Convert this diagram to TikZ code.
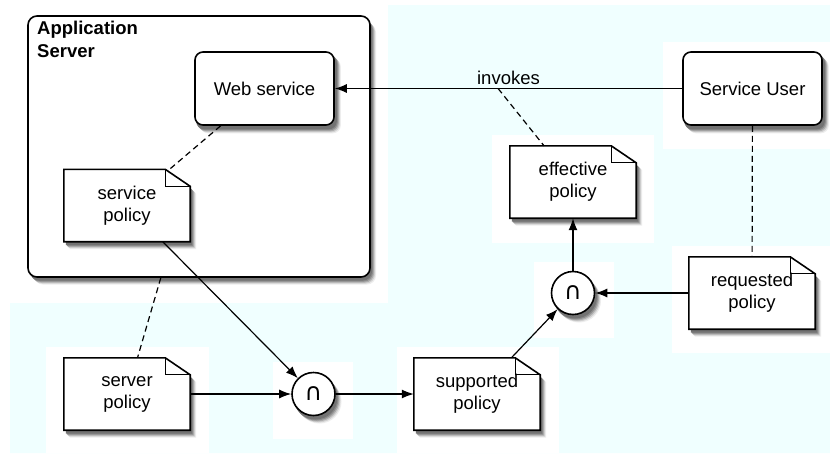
\documentclass[tikz,border=0pt]{standalone}
\usepackage{fontspec}
\setmainfont{Liberation Sans}
\newfontfamily\symfont{DejaVu Sans}
\usetikzlibrary{arrows.meta,calc}
\definecolor{bgcyan}{RGB}{240,255,255}
\definecolor{shadeA}{gray}{0.93}
\definecolor{shadeB}{gray}{0.82}
\definecolor{shadeC}{gray}{0.68}
\definecolor{shadeD}{gray}{0.55}
\definecolor{shadeE}{gray}{0.45}
\pgfdeclarelayer{back}
\pgfdeclarelayer{shade}
\pgfdeclarelayer{mid}
\pgfsetlayers{back,shade,mid,main}
\newcommand\shadowsteps{6/7.5/shadeA, 5/6.5/shadeB, 4/5.5/shadeC, 3/4.5/shadeD, 2/3.5/shadeE}
% shadow of a rounded box between two corner coordinates: #1 nw, #2 se, #3 radius
\newcommand\rshadow[3]{%
  \foreach \sx/\sy/\scol in \shadowsteps {%
    \path[fill=\scol, rounded corners=#3] ($(#1)+(\sx,\sy)$) rectangle ($(#2)+(\sx,\sy)$);}}
% shadow of a circle node: #1 node name, #2 radius
\newcommand\cshadow[2]{%
  \foreach \sx/\sy/\scol in \shadowsteps {%
    \path[fill=\scol] ($(#1.center)+(\sx,\sy)$) circle[radius=#2];}}
\newcommand\noteoutline[1]{%
  \begin{pgfonlayer}{shade}
    \foreach \sx/\sy/\scol in \shadowsteps {%
      \path[fill=\scol] ($(#1.north west)+(\sx,\sy)$) -- ($(#1.north east)+(\sx-25,\sy)$)
        -- ($(#1.north east)+(\sx,\sy+17)$) -- ($(#1.south east)+(\sx,\sy)$)
        -- ($(#1.south west)+(\sx,\sy)$) -- cycle;}
  \end{pgfonlayer}
  \begin{pgfonlayer}{mid}
    \draw[noteline, fill=white]
      (#1.north west) -- ($(#1.north east)+(-25,0)$) -- ($(#1.north east)+(0,17)$)
      -- (#1.south east) -- (#1.south west) -- cycle;
    \draw[line width=1.2pt] ($(#1.north east)+(-25,0)$) |- ($(#1.north east)+(0,17)$);
  \end{pgfonlayer}}
\begin{document}
\begin{tikzpicture}[x=1pt,y=-1pt,
  txt/.style={font=\fontsize{18.5}{22}\selectfont, align=center},
  roundbox/.style={txt, draw, line width=1.6pt, fill=white, rounded corners=8pt,
    minimum width=139pt, minimum height=73pt, inner sep=0pt},
  appbox/.style={draw, line width=1.6pt, fill=white, rounded corners=9pt,
    minimum width=342pt, minimum height=261pt, inner sep=0pt},
  notebox/.style={txt, minimum width=126pt, minimum height=72pt, inner sep=0pt},
  noteline/.style={line width=1.6pt, line join=miter},
  opnode/.style={circle, draw, line width=1.6pt, fill=white, minimum size=43pt,
    inner sep=0pt, font=\symfont\fontsize{24}{24}\selectfont},
  conn/.style={line width=1.2pt, -{Latex[length=12pt,width=9pt]}},
  assoc/.style={line width=1.2pt, dash pattern=on 6pt off 4pt},
]
\useasboundingbox (0,0) rectangle (830,453);

% nodes
\node[roundbox] (ws) at (264.5,88.5) {Web service};
\node[roundbox] (su) at (752.5,88.5) {Service User};
\node[notebox] (sp) at (127,205.5) {service\\policy};
\node[notebox] (ep) at (573,182) {effective\\policy};
\node[notebox] (rp) at (752,293) {requested\\policy};
\node[notebox] (spp) at (477,394) {supported\\policy};
\node[notebox] (svp) at (127,394) {server\\policy};
\node[opnode] (capL) at (313.5,394) {∩};
\node[opnode] (capU) at (573,293) {∩};

% background regions and the application server box
\begin{pgfonlayer}{back}
  \path[fill=white] (0,0) rectangle (830,453);
  \path[fill=bgcyan] (388,5) -- (830,5) -- (830,453) -- (10,453) -- (10,303) -- (388,303) -- cycle;
  \path[fill=white] (663,42) rectangle (830,149);
  \path[fill=white] (492,135) rectangle (654,243);
  \path[fill=white] (534,262) rectangle (614,338);
  \path[fill=white] (672,246) rectangle (830,353);
  \path[fill=white] (397,347) rectangle (559,453);
  \path[fill=white] (46,347) rectangle (209,453);
  \path[fill=white] (273,362) rectangle (353,439);
  \coordinate (asnw) at (28,16);
  \coordinate (asse) at (370,277);
  \rshadow{asnw}{asse}{9pt}
  \node[appbox] (as) at (199,146.5) {};
  \node[anchor=north west, inner sep=0pt, align=left,
        font=\fontsize{18.5}{23}\selectfont\bfseries] (title) at (37,21) {Application\\Server};
\end{pgfonlayer}

\begin{pgfonlayer}{shade}
  \rshadow{ws.north west}{ws.south east}{8pt}
  \rshadow{su.north west}{su.south east}{8pt}
  \cshadow{capL}{22pt}
  \cshadow{capU}{22pt}
\end{pgfonlayer}
\noteoutline{sp}
\noteoutline{ep}
\noteoutline{rp}
\noteoutline{spp}
\noteoutline{svp}

% connectors
\draw[conn] (su) -- node[pos=0.5, anchor=south, txt, inner sep=3pt] (inv-label) {invokes}
  coordinate[pos=0.53] (inv) (ws);
\draw[assoc] (inv) -- (ep);
\draw[assoc] (ws) -- (sp);
\draw[assoc] (su) -- (rp);
\draw[assoc] (as) -- (svp);
\draw[conn] (sp) -- (capL);
\draw[conn] (svp) -- (capL);
\draw[conn] (capL) -- (spp);
\draw[conn] (spp) -- (capU);
\draw[conn] (rp) -- (capU);
\draw[conn] (capU) -- (ep);
\end{tikzpicture}
\end{document}
